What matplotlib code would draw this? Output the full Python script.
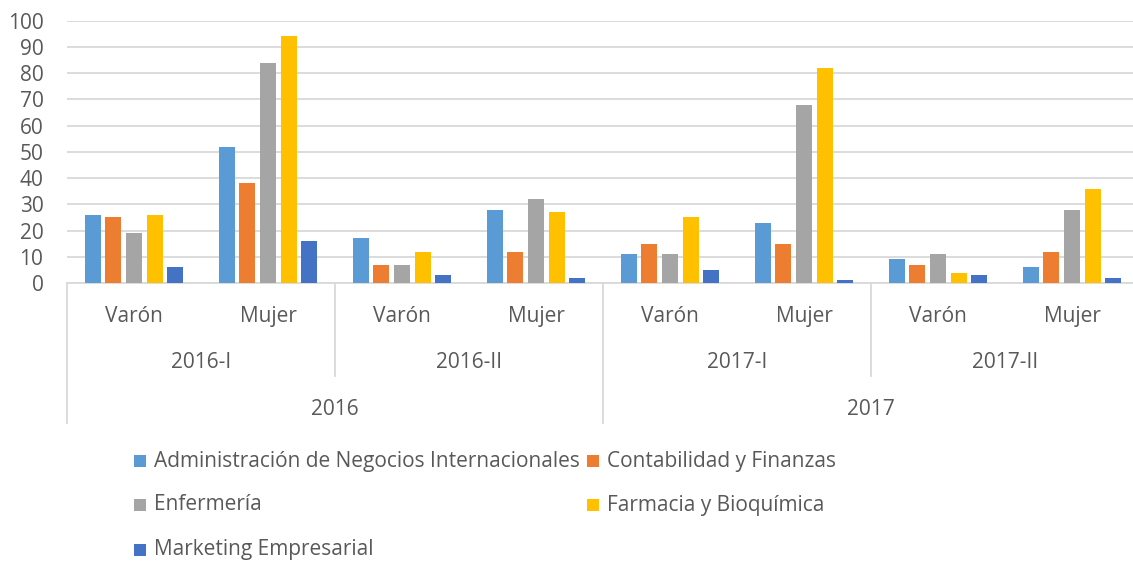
import matplotlib
matplotlib.use("Agg")
import matplotlib.pyplot as plt
from matplotlib.patches import Rectangle
from matplotlib.lines import Line2D

plt.rcParams['font.family'] = ['Open Sans', 'DejaVu Sans']

# ---- data ----
years = ["2016", "2017"]
semesters = ["2016-I", "2016-II", "2017-I", "2017-II"]
sexes = ["Varón", "Mujer"]
series_names = ["Administración de Negocios Internacionales", "Contabilidad y Finanzas",
                "Enfermería", "Farmacia y Bioquímica", "Marketing Empresarial"]
colors = ["#5B9BD5", "#ED7D31", "#A5A5A5", "#FFC000", "#4472C4"]
# values per category: 2016-I Varón, 2016-I Mujer, 2016-II Varón, ... 2017-II Mujer
admin = [26, 52, 17, 28, 11, 23, 9, 6]
conta = [25, 38, 7, 12, 15, 15, 7, 12]
enfer = [19, 84, 7, 32, 11, 68, 11, 28]
farma = [26, 94, 12, 27, 25, 82, 4, 36]
marke = [6, 16, 3, 2, 5, 1, 3, 2]
series = [admin, conta, enfer, farma, marke]
yticks = [0, 10, 20, 30, 40, 50, 60, 70, 80, 90, 100]

TXT = "#595959"
GRID = "#D9D9D9"
FS = 15

W, H = 1133, 561
fig = plt.figure(figsize=(W / 100, H / 100), dpi=100)
ax = fig.add_axes([67 / W, 1 - 283 / H, 1072 / W, 262.3 / H])

n_cat = len(admin)
step = 0.1537
bw = 0.12
for j, (vals, col, name) in enumerate(zip(series, colors, series_names)):
    xs = [i + 0.5 + (j - 2) * step for i in range(n_cat)]
    ax.bar(xs, vals, width=bw, color=col, label=name, zorder=3)

ax.set_xlim(0, n_cat)
ax.set_ylim(0, 100)
ax.set_yticks(yticks)
ax.set_yticklabels([str(t) for t in yticks])
ax.tick_params(axis='y', length=0, pad=17, labelsize=FS, labelcolor=TXT)
ax.set_xticks([])
ax.grid(axis='y', color=GRID, linewidth=1.3, zorder=0)
for s in ["top", "right", "left"]:
    ax.spines[s].set_visible(False)
ax.spines["bottom"].set_color(GRID)
ax.spines["bottom"].set_linewidth(1.3)

tr = ax.get_xaxis_transform()
ah = 262.3
def yfrac(py):
    return (283 - py) / ah

# level 1: sex labels
for i in range(n_cat):
    ax.text(i + 0.5, yfrac(316), sexes[i % 2], transform=tr, ha='center', va='center',
            fontsize=FS, color=TXT)
# level 2: semesters
for k, sem in enumerate(semesters):
    ax.text(2 * k + 1, yfrac(362.5), sem, transform=tr, ha='center', va='center',
            fontsize=FS, color=TXT)
# level 3: years
for k, yr in enumerate(years):
    ax.text(4 * k + 2, yfrac(409.5), yr, transform=tr, ha='center', va='center',
            fontsize=FS, color=TXT)

# separators
for b in range(0, n_cat + 1, 2):
    bottom = 422.7 if b % 4 == 0 else 376
    ax.add_line(Line2D([b, b], [0, yfrac(bottom)], transform=tr, color=GRID,
                       linewidth=1.3, clip_on=False))

# legend (Excel style, 2 columns)
col_x = [134, 587]
row_y = [460, 504, 549]
msz = 12
for j, (name, col) in enumerate(zip(series_names, colors)):
    r, c = divmod(j, 2)
    x0 = col_x[c]
    yc = row_y[r]
    fig.patches.append(Rectangle((x0 / W, 1 - (yc + 1 + msz / 2) / H), msz / W, msz / H,
                                 transform=fig.transFigure, facecolor=col, edgecolor='none'))
    fig.text((x0 + 20) / W, 1 - (yc + 1) / H, name, ha='left', va='center', fontsize=FS, color=TXT)

fig.savefig("out.png", dpi=100, facecolor='white')
